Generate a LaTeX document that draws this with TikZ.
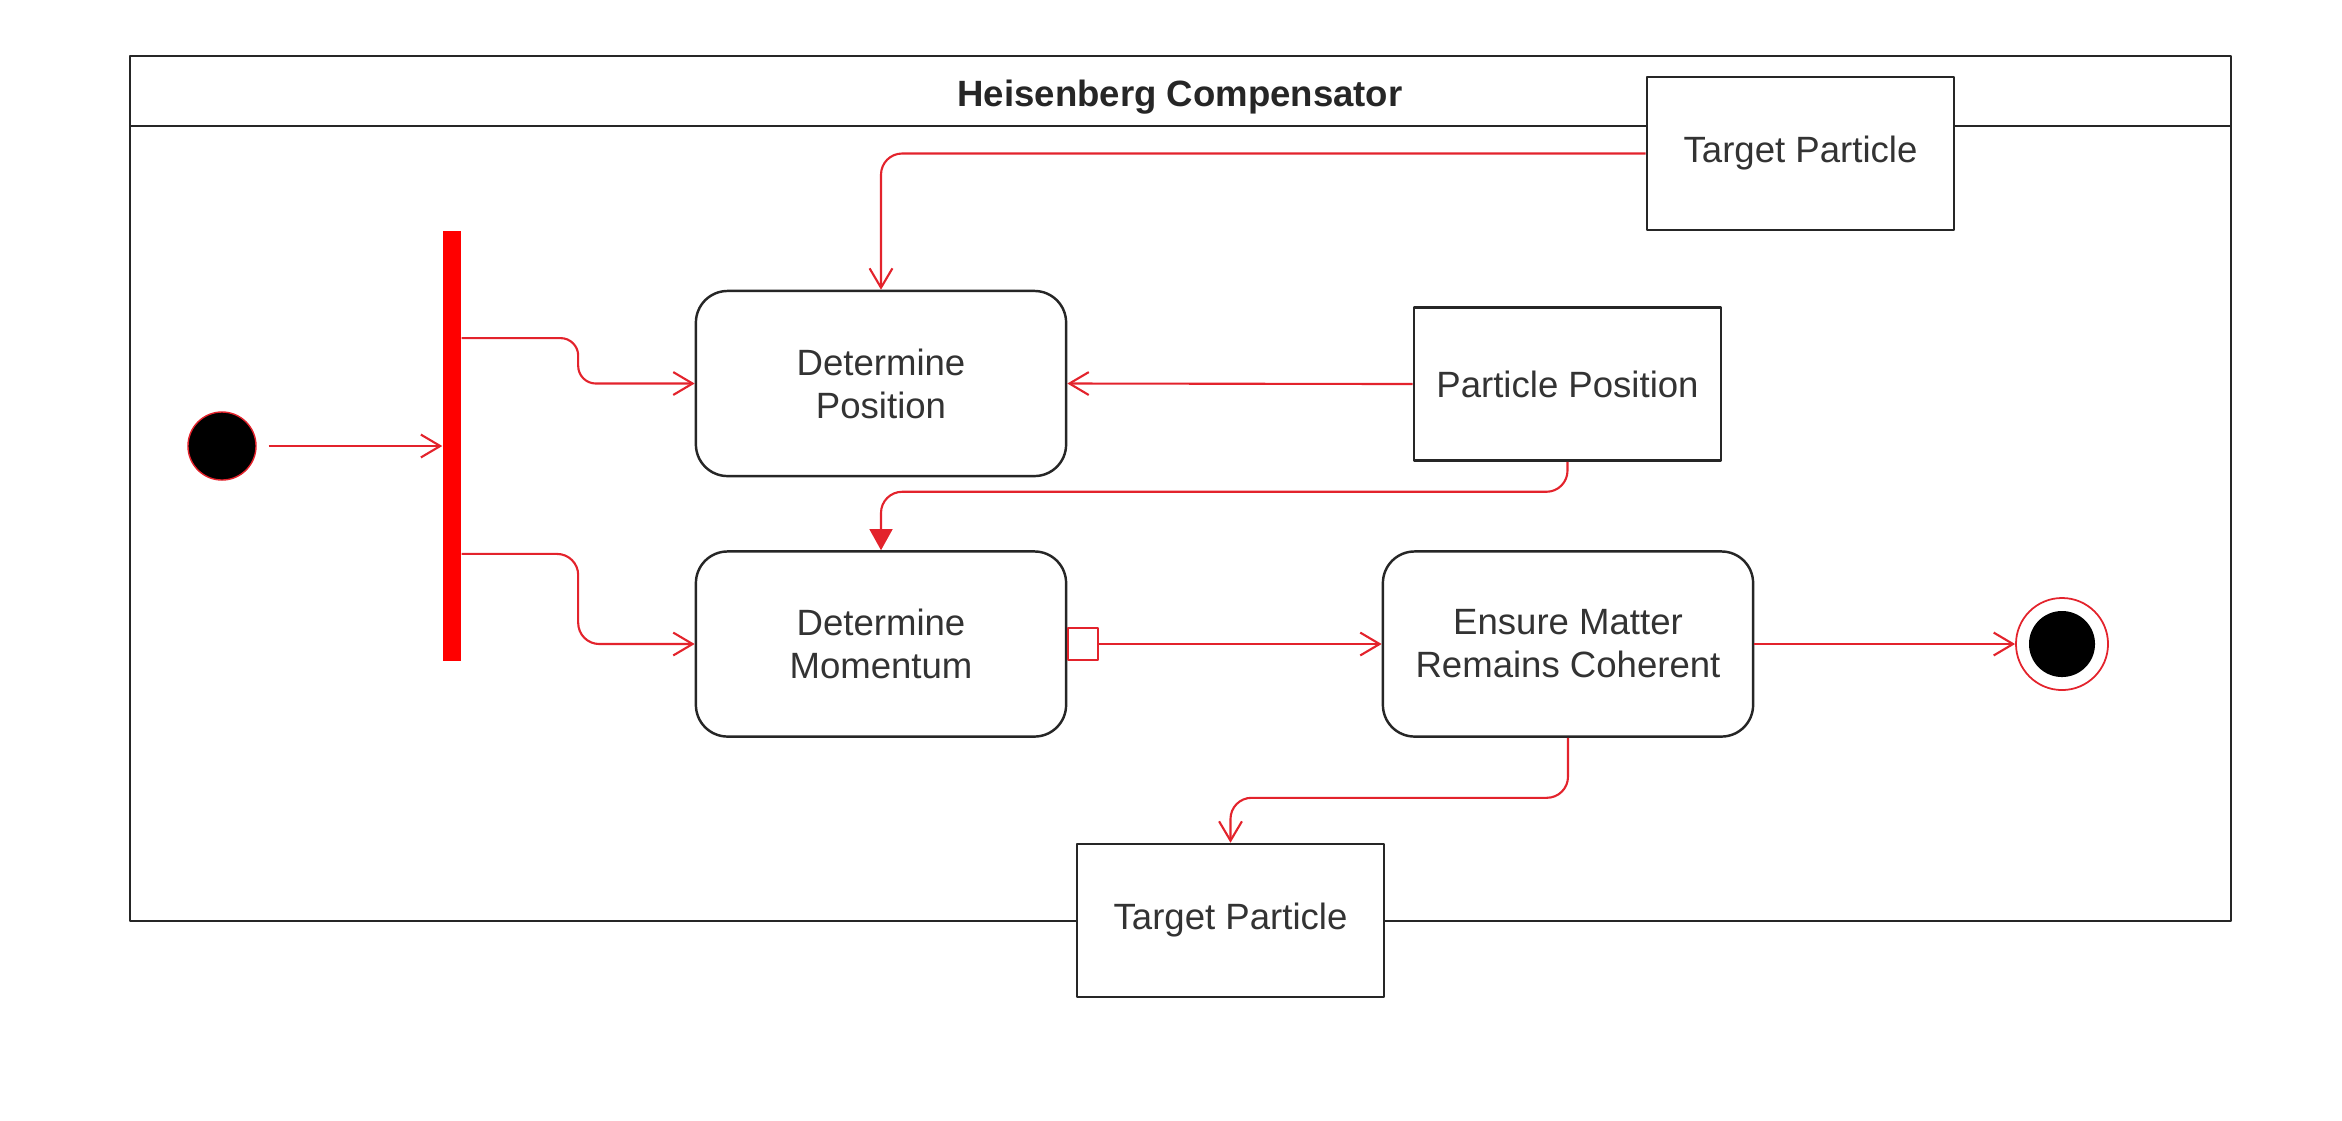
\documentclass[tikz,border=0pt]{standalone}
\usepackage{fontspec}
\setmainfont{Liberation Sans}
\usetikzlibrary{arrows.meta,calc}
\definecolor{flowred}{HTML}{E3232C}
\begin{document}
\begin{tikzpicture}[x=0.01cm,y=-0.01cm,line join=round,font=\fontsize{10.4}{12.2}\selectfont,
	act/.style={draw=black!85,line width=.7pt,rounded corners=9pt,fill=white,minimum width=3.7cm,minimum height=1.85cm,align=center,text=black!80},
	obj/.style={draw=black!85,line width=.7pt,fill=white,minimum width=3.07cm,minimum height=1.53cm,text=black!80},
	flow/.style={draw=flowred,line width=.6pt,-{Straight Barb[length=5.5pt,width=6.5pt]}},
	outpin/.style={draw=flowred,line width=.6pt,fill=white,minimum width=.3cm,minimum height=.32cm,inner sep=0pt}]
	\useasboundingbox (0,0) rectangle (2342,1120);
	% frame with header
	\draw[line width=.7pt,black!85] (130,56) rectangle (2231,921) (130,126)--(2231,126);
	\node[font=\bfseries\fontsize{10.4}{12}\selectfont,text=black!85] (title) at (1180,97) {Heisenberg Compensator};
	% initial node and fork
	\node[circle,fill=black,draw=flowred,line width=.4pt,minimum size=.68cm,inner sep=0pt] (start) at (222,446) {};
	\node[fill=red,minimum width=.18cm,minimum height=4.3cm,inner sep=0pt] (fork) at (452,446) {};
	\coordinate (forkA) at ($(fork.north east)!.25!(fork.south east)$);
	\coordinate (forkB) at ($(fork.north east)!.75!(fork.south east)$);
	% actions
	\node[act] (detpos) at (881,383.5) {Determine\\Position};
	\node[act] (detmom) at (881,644) {Determine\\Momentum};
	\node[act] (em) at (1568,644) {Ensure Matter\\Remains Coherent};
	\node[outpin,anchor=west] (mompin) at (detmom.east) {};
	% objects
	\node[obj] (tgtTop) at (1800.5,153.5) {Target Particle};
	\node[obj] (pp) at (1567.5,384) {Particle Position};
	\node[obj] (tgtBot) at (1230.5,920.5) {Target Particle};
	% final node
	\node[circle,draw=flowred,line width=.5pt,fill=white,minimum size=.92cm,inner sep=0pt] (end) at (2062,644) {};
	\fill (end) circle[radius=.33cm];
	% flows
	\coordinate (midA) at ($(forkA)!.5!(detpos.west)$);
	\coordinate (midB) at ($(forkB)!.5!(detmom.west)$);
	\draw[flow,shorten <=3.4pt] (start) -- (fork);
	\draw[flow,rounded corners=5pt] (forkA) -- (forkA -| midA) |- (detpos.west);
	\draw[flow,rounded corners=6pt] (forkB) -- (forkB -| midB) |- (detmom.west);
	\draw[flow,rounded corners=6pt] (tgtTop.west) -| (detpos.north);
	\draw[flow] (pp.west) -- (detpos.east);
	\draw[flow,-{Triangle[length=6pt,width=6.5pt]},rounded corners=6pt] (pp.south) -- ++(0,30) -| (detmom.north);
	\draw[flow] (mompin) -- (em);
	\draw[flow] (em) -- (end);
	\draw[flow,rounded corners=6pt] (em.south) -- ++(0,60) -| (tgtBot.north);
\end{tikzpicture}
\end{document}
